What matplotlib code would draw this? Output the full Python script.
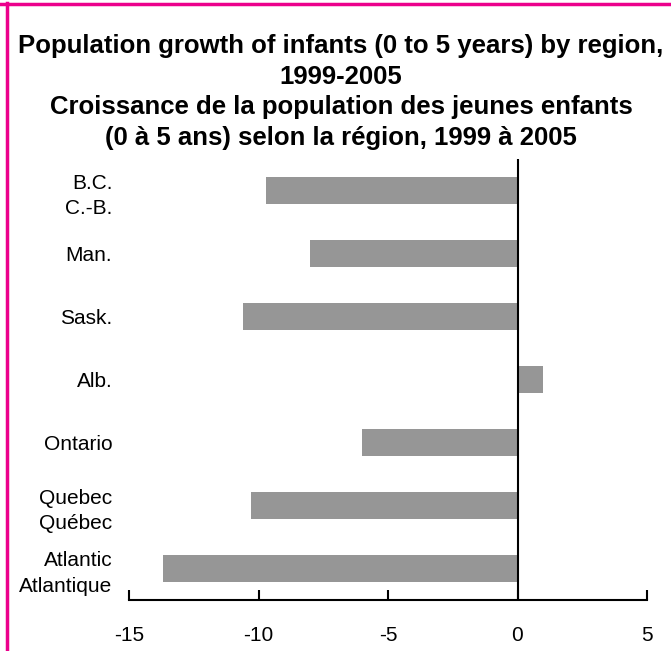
import matplotlib
matplotlib.use("Agg")
import matplotlib.pyplot as plt
from matplotlib.lines import Line2D

plt.rcParams['font.family'] = ['Liberation Sans', 'DejaVu Sans']

regions = ["Atlantic\nAtlantique", "Quebec\nQuébec", "Ontario", "Alb.", "Sask.", "Man.", "B.C.\nC.-B."]
growth = [-13.7, -10.3, -6.0, 1.0, -10.6, -8.0, -9.7]
xticks = [-15, -10, -5, 0, 5]
title_lines = ["Population growth of infants (0 to 5 years) by region,",
               "1999-2005",
               "Croissance de la population des jeunes enfants",
               "(0 à 5 ans) selon la région, 1999 à 2005"]

W, H = 671, 651
fig = plt.figure(figsize=(W / 100, H / 100), dpi=100)
ax = fig.add_axes([129 / W, 1 - 600 / H, (647 - 129) / W, (600 - 159) / H])

ypos = list(range(len(regions)))
ax.barh(ypos, growth, height=0.44, color='#969696', zorder=2)
ax.axvline(0, color='black', lw=1.5, zorder=3)

ax.set_xlim(-15, 5)
ax.set_ylim(-0.5, len(regions) - 0.5)
ax.set_xticks(xticks)
ax.set_xticklabels([str(t) for t in xticks])
ax.set_yticks(ypos)
ax.set_yticklabels(regions, multialignment='right', linespacing=1.42)
for s in ['top', 'right', 'left']:
    ax.spines[s].set_visible(False)
ax.spines['bottom'].set_linewidth(1.5)
ax.tick_params(axis='x', direction='in', length=7, width=1.5, pad=19, labelsize=15)
ax.tick_params(axis='y', length=0, pad=12, labelsize=15)

y0 = 46
for i, line in enumerate(title_lines):
    fig.text(341 / W, 1 - (y0 + 30.5 * i) / H, line, ha='center', va='center',
             fontsize=18.5, fontweight='bold')

# magenta frame (top and left)
fig.add_artist(Line2D([0, 1], [1 - 4 / H, 1 - 4 / H], transform=fig.transFigure, color='#EC008C', lw=2.5))
fig.add_artist(Line2D([7 / W, 7 / W], [0, 1 - 3 / H], transform=fig.transFigure, color='#EC008C', lw=2.5))

fig.savefig("out.png", dpi=100)
